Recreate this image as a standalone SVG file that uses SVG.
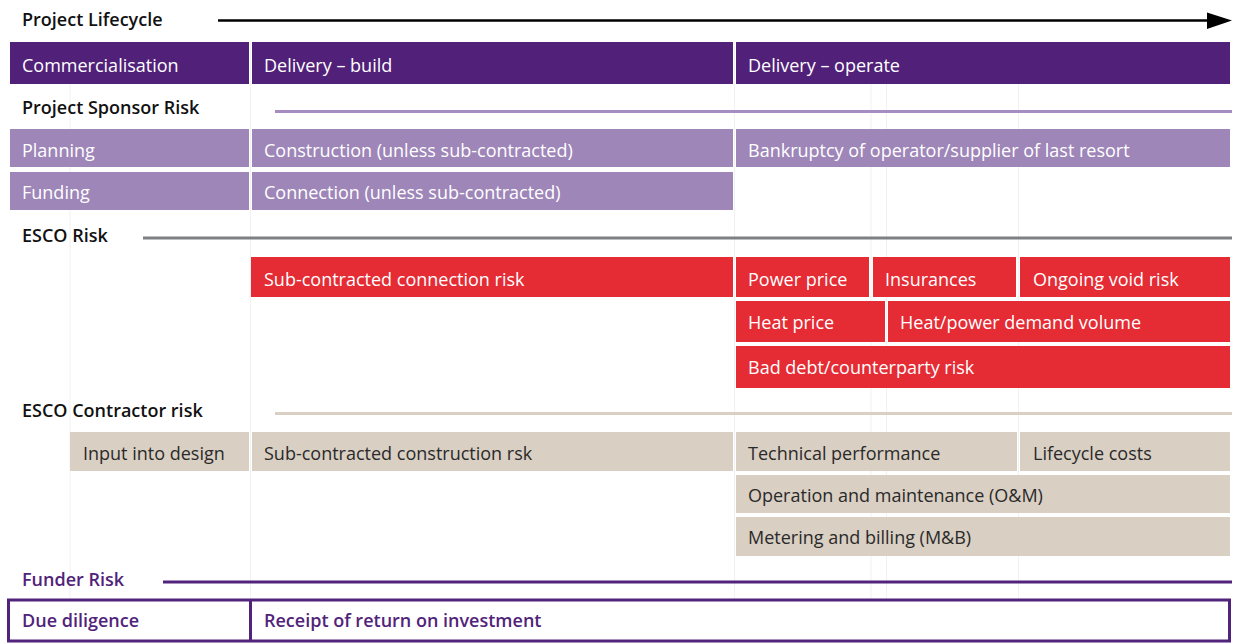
<svg xmlns="http://www.w3.org/2000/svg" width="1236" height="644" viewBox="0 0 1236 644">
<style>
text{font-family:"Open Sans","Liberation Sans",sans-serif;}
.h{font-size:18px;font-weight:600;fill:#111;}
.t{font-size:18px;fill:#fff;}
.td{font-size:18px;fill:#2a2a2a;}
.tf{font-size:18px;font-weight:600;fill:#51237a;}
.lc{fill:#51217a;}
.sp{fill:#9e86b9;}
.es{fill:#e52b34;}
.co{fill:#d9cfc3;}
.grid{stroke:#f1f1f1;stroke-width:1;}
</style>
<rect width="1236" height="644" fill="#fff"/>
<g id="grid">
<line class="grid" x1="70" y1="42" x2="70" y2="642"/>
<line class="grid" x1="250.5" y1="42" x2="250.5" y2="642"/>
<line class="grid" x1="734.5" y1="42" x2="734.5" y2="642"/>
<line class="grid" x1="871" y1="42" x2="871" y2="642"/>
<line class="grid" x1="886.5" y1="42" x2="886.5" y2="642"/>
<line class="grid" x1="1018.5" y1="42" x2="1018.5" y2="642"/>
</g>
<g id="headings">
<text class="h" x="22" y="26">Project Lifecycle</text>
<text class="h" x="22" y="114">Project Sponsor Risk</text>
<text class="h" x="22" y="242">ESCO Risk</text>
<text class="h" x="22" y="417">ESCO Contractor risk</text>
<text class="tf" x="22" y="586">Funder Risk</text>
</g>
<g id="connectors">
<line x1="218" y1="20.5" x2="1210" y2="20.5" stroke="#000" stroke-width="2.5"/>
<polygon points="1207,12.5 1232,20.5 1207,29" fill="#000"/>
<line x1="275" y1="111.5" x2="1232" y2="111.5" stroke="#a58dc1" stroke-width="3"/>
<line x1="143" y1="238" x2="1232" y2="238" stroke="#7f8083" stroke-width="3"/>
<line x1="275" y1="413.5" x2="1232" y2="413.5" stroke="#d9cfc3" stroke-width="3"/>
<line x1="163" y1="582" x2="1232" y2="582" stroke="#51237a" stroke-width="3"/>
</g>
<g id="lc-commercialisation"><rect class="lc" x="10" y="42" width="239" height="42"/><text class="t" x="22" y="72">Commercialisation</text></g>
<g id="lc-build"><rect class="lc" x="252" y="42" width="481" height="42"/><text class="t" x="264" y="72">Delivery – build</text></g>
<g id="lc-operate"><rect class="lc" x="736" y="42" width="494" height="42"/><text class="t" x="748" y="72">Delivery – operate</text></g>

<g id="sp-planning"><rect class="sp" x="10" y="129" width="239" height="38"/><text class="t" x="22" y="157">Planning</text></g>
<g id="sp-construction"><rect class="sp" x="252" y="129" width="481" height="38"/><text class="t" x="264" y="157">Construction (unless sub-contracted)</text></g>
<g id="sp-bankruptcy"><rect class="sp" x="736" y="129" width="494" height="38"/><text class="t" x="748" y="157">Bankruptcy of operator/supplier of last resort</text></g>
<g id="sp-funding"><rect class="sp" x="10" y="172" width="239" height="38"/><text class="t" x="22" y="199">Funding</text></g>
<g id="sp-connection"><rect class="sp" x="252" y="172" width="481" height="38"/><text class="t" x="264" y="199">Connection (unless sub-contracted)</text></g>

<g id="es-subconn"><rect class="es" x="251" y="257" width="482" height="40"/><text class="t" x="264" y="286">Sub-contracted connection risk</text></g>
<g id="es-power"><rect class="es" x="736" y="257" width="133" height="40"/><text class="t" x="748" y="286">Power price</text></g>
<g id="es-insurances"><rect class="es" x="873" y="257" width="143" height="40"/><text class="t" x="885" y="286">Insurances</text></g>
<g id="es-void"><rect class="es" x="1020" y="257" width="210" height="40"/><text class="t" x="1033" y="286">Ongoing void risk</text></g>
<g id="es-heat"><rect class="es" x="736" y="301" width="149" height="41"/><text class="t" x="748" y="329">Heat price</text></g>
<g id="es-demand"><rect class="es" x="888" y="301" width="342" height="41"/><text class="t" x="900" y="329">Heat/power demand volume</text></g>
<g id="es-baddebt"><rect class="es" x="736" y="346" width="494" height="42"/><text class="t" x="748" y="374">Bad debt/counterparty risk</text></g>

<g id="co-design"><rect class="co" x="70" y="432" width="179" height="39"/><text class="td" x="83" y="460">Input into design</text></g>
<g id="co-subcons"><rect class="co" x="252" y="432" width="481" height="39"/><text class="td" x="264" y="460">Sub-contracted construction rsk</text></g>
<g id="co-tech"><rect class="co" x="736" y="432" width="281" height="39"/><text class="td" x="748" y="460">Technical performance</text></g>
<g id="co-lifecycle"><rect class="co" x="1020" y="432" width="210" height="39"/><text class="td" x="1033" y="460">Lifecycle costs</text></g>
<g id="co-om"><rect class="co" x="736" y="475" width="494" height="38"/><text class="td" x="748" y="502">Operation and maintenance (O&amp;M)</text></g>
<g id="co-mb"><rect class="co" x="736" y="517" width="494" height="39"/><text class="td" x="748" y="544">Metering and billing (M&amp;B)</text></g>

<g id="funder-row">
<rect x="8.5" y="600" width="1221" height="41" fill="#fff" stroke="#51237a" stroke-width="3"/>
<line x1="250.5" y1="600" x2="250.5" y2="641" stroke="#51237a" stroke-width="3"/>
</g>
<g id="fu-diligence"><text class="tf" x="22" y="627">Due diligence</text></g>
<g id="fu-return"><text class="tf" x="264" y="627">Receipt of return on investment</text></g>
</svg>
